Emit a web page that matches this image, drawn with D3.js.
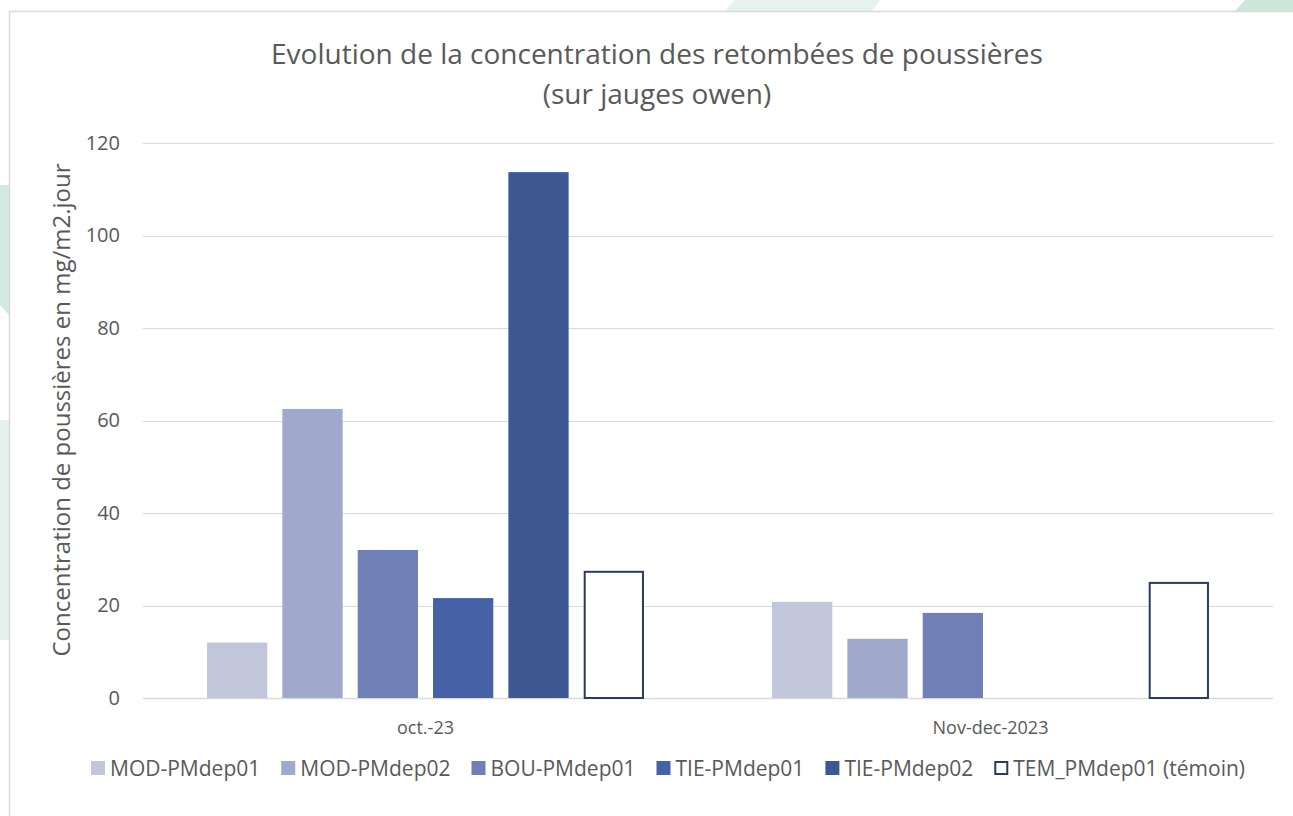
<!DOCTYPE html>
<html>
<head>
<meta charset="utf-8">
<script src="https://cdn.jsdelivr.net/npm/d3@7"></script>
<style>
  body { margin: 0; background: #fff; }
  svg { display: block; font-family: "Open Sans", "Noto Sans", sans-serif; }
</style>
</head>
<body>
<div id="chart"></div>
<script>
// data
var categories = ["oct.-23", "Nov-dec-2023"]
var series = ["MOD-PMdep01", "MOD-PMdep02", "BOU-PMdep01", "TIE-PMdep01", "TIE-PMdep02", "TEM_PMdep01 (témoin)"]
var values = [
  [12, 20.8],
  [62.5, 12.8],
  [32, 18.4],
  [21.6, null],
  [113.7, null],
  [27.5, 25.1]
]
var yTicks = [0, 20, 40, 60, 80, 100, 120]

var colors = ["#c1c6db", "#a0a8cb", "#7080b6", "#4661a5", "#3d5793", "#ffffff"]
var strokes = [null, null, null, null, null, "#2c3a5e"]

var W = 1293, H = 816
var margin = {top: 143, left: 143, right: 20, bottom: 118}

var svg = d3.select("#chart").append("svg")
    .attr("width", W)
    .attr("height", H)

// faint green decorations behind the chart box
var deco = svg.append("g")
deco.append("polygon").attr("points", "1245,0 1293,0 1293,11 1235,11").attr("fill", "#cde6da")
deco.append("polygon").attr("points", "735,0 880,0 872,11 725,11").attr("fill", "#e6f2ec")
deco.append("polygon").attr("points", "0,185 9,185 9,315 0,305").attr("fill", "#d3eae0")
deco.append("polygon").attr("points", "0,420 9,420 9,640 0,640").attr("fill", "#e5f2ec")

// chart box
svg.append("rect")
    .attr("x", 9.5).attr("y", 11.5)
    .attr("width", W + 20).attr("height", H + 20)
    .attr("fill", "#fff")
    .attr("stroke", "#d9d9d9")
    .attr("stroke-width", 1.5)

var x0 = d3.scaleBand()
    .domain(categories)
    .range([margin.left, W - margin.right])

var x1 = d3.scaleBand()
    .domain(series)
    .range([0, x0.bandwidth()])
    .paddingInner(0.2)
    .paddingOuter(0.85)

var y = d3.scaleLinear()
    .domain([0, 120])
    .range([H - margin.bottom, margin.top])

// gridlines
svg.append("g")
    .selectAll("line")
    .data(yTicks)
    .enter().append("line")
    .attr("x1", margin.left)
    .attr("x2", W - margin.right)
    .attr("y1", function(d) { return Math.round(y(d)) + 0.5 })
    .attr("y2", function(d) { return Math.round(y(d)) + 0.5 })
    .attr("stroke", "#d9d9d9")
    .attr("stroke-width", function(d) { return d == 0 ? 1.5 : 1 })

// y axis labels
var yAxis = svg.append("g")
    .attr("transform", "translate(" + (margin.left - 23) + ",0)")
    .call(d3.axisLeft(y).tickValues(yTicks).tickSize(0).tickPadding(0))
yAxis.attr("font-family", null).attr("font-size", null)
yAxis.select(".domain").remove()
yAxis.selectAll("text")
    .attr("fill", "#595959")
    .style("font-size", "20px")

// bars
var flat = []
series.forEach(function(s, i) {
  categories.forEach(function(c, j) {
    if (values[i][j] != null) flat.push({s: s, i: i, c: c, v: values[i][j]})
  })
})

svg.append("g")
    .selectAll("rect")
    .data(flat)
    .enter().append("rect")
    .attr("x", function(d) { return x0(d.c) + x1(d.s) + (strokes[d.i] ? 1 : 0) })
    .attr("y", function(d) { return y(d.v) + (strokes[d.i] ? 1 : 0) })
    .attr("width", function(d) { return x1.bandwidth() - (strokes[d.i] ? 2 : 0) })
    .attr("height", function(d) { return y(0) - y(d.v) - (strokes[d.i] ? 1 : 0) })
    .attr("fill", function(d) { return colors[d.i] })
    .attr("stroke", function(d) { return strokes[d.i] || "none" })
    .attr("stroke-width", 2)

// x axis labels
svg.append("g")
    .selectAll("text")
    .data(categories)
    .enter().append("text")
    .attr("x", function(d) { return x0(d) + x0.bandwidth() / 2 })
    .attr("y", 734)
    .attr("text-anchor", "middle")
    .attr("fill", "#595959")
    .style("font-size", "18px")
    .text(function(d) { return d })

// title
var title = svg.append("text")
    .attr("text-anchor", "middle")
    .attr("fill", "#595959")
    .style("font-size", "28px")
title.append("tspan").attr("x", 657).attr("y", 64).text("Evolution de la concentration des retombées de poussières")
title.append("tspan").attr("x", 657).attr("y", 104).text("(sur jauges owen)")

// y axis title
svg.append("text")
    .attr("transform", "translate(70,410) rotate(-90)")
    .attr("text-anchor", "middle")
    .attr("fill", "#595959")
    .style("font-size", "24px")
    .text("Concentration de poussières en mg/m2.jour")

// legend
var sq = 14, textGap = 19, itemGap = 21
var legend = svg.append("g")
var items = legend.selectAll("g")
    .data(series)
    .enter().append("g")
items.append("rect")
    .attr("width", function(d, i) { return strokes[i] ? sq - 2 : sq })
    .attr("height", function(d, i) { return strokes[i] ? sq - 2 : sq })
    .attr("x", function(d, i) { return strokes[i] ? 1 : 0 })
    .attr("y", function(d, i) { return strokes[i] ? -sq : -sq - 1 })
    .attr("fill", function(d, i) { return colors[i] })
    .attr("stroke", function(d, i) { return strokes[i] || "none" })
    .attr("stroke-width", 2)
items.append("text")
    .attr("x", textGap)
    .attr("y", 0)
    .attr("fill", "#595959")
    .style("font-size", "21px")
    .text(function(d) { return d })

var pos = 0, offsets = []
items.each(function(d, i) {
  offsets.push(pos)
  pos += textGap + this.querySelector("text").getComputedTextLength() + itemGap
})
var total = pos - itemGap
var start = 668 - total / 2
items.attr("transform", function(d, i) { return "translate(" + (start + offsets[i]) + ",776)" })
</script>
</body>
</html>
